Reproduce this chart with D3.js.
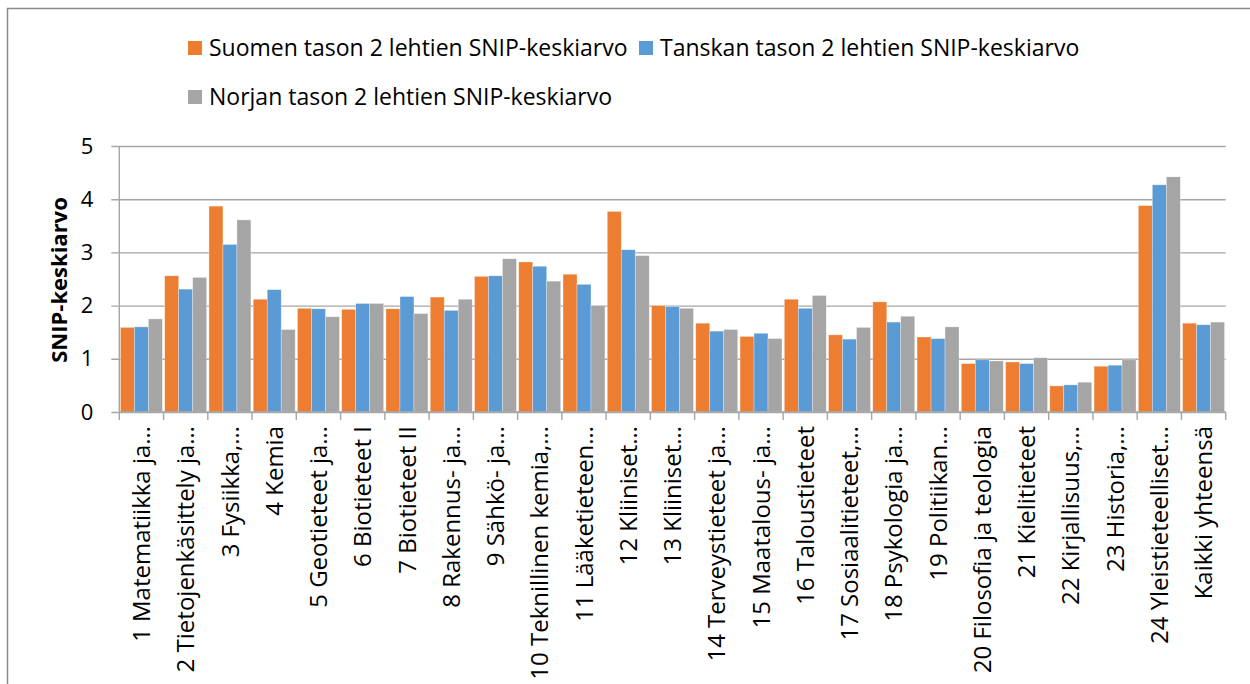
<!DOCTYPE html>
<html>
<head>
<meta charset="utf-8">
<script src="https://cdn.jsdelivr.net/npm/d3@7"></script>
<style>
  html, body { margin: 0; padding: 0; background: #fff; }
  svg { display: block; }
  text { font-family: "Open Sans", "Noto Sans", sans-serif; fill: #000; }
</style>
</head>
<body>
<script>
const categories = [
  "1 Matematiikka ja…", "2 Tietojenkäsittely ja…", "3 Fysiikka,…", "4 Kemia",
  "5 Geotieteet ja…", "6 Biotieteet I", "7 Biotieteet II", "8 Rakennus- ja…",
  "9 Sähkö- ja…", "10 Teknillinen kemia,…", "11 Lääketieteen…", "12 Kliiniset…",
  "13 Kliiniset…", "14 Terveystieteet ja…", "15 Maatalous- ja…", "16 Taloustieteet",
  "17 Sosiaalitieteet,…", "18 Psykologia ja…", "19 Politiikan…", "20 Filosofia ja teologia",
  "21 Kielitieteet", "22 Kirjallisuus,…", "23 Historia,…", "24 Yleistieteelliset…",
  "Kaikki yhteensä"
];
const seriesNames = [
  "Suomen tason 2 lehtien SNIP-keskiarvo",
  "Tanskan tason 2 lehtien SNIP-keskiarvo",
  "Norjan tason 2 lehtien SNIP-keskiarvo"
];
const suomi = [1.59, 2.56, 3.87, 2.12, 1.95, 1.93, 1.94, 2.16, 2.55, 2.82, 2.59, 3.77,
  2.00, 1.67, 1.42, 2.12, 1.45, 2.07, 1.41, 0.91, 0.94, 0.49, 0.86, 3.88, 1.67];
const tanska = [1.60, 2.31, 3.15, 2.30, 1.94, 2.04, 2.17, 1.91, 2.56, 2.74, 2.40, 3.05,
  1.98, 1.52, 1.48, 1.95, 1.37, 1.69, 1.38, 0.98, 0.91, 0.51, 0.88, 4.27, 1.64];
const norja = [1.75, 2.53, 3.61, 1.55, 1.79, 2.04, 1.85, 2.12, 2.88, 2.46, 2.00, 2.94,
  1.95, 1.55, 1.38, 2.19, 1.59, 1.80, 1.60, 0.96, 1.02, 0.56, 0.98, 4.42, 1.69];
const yTicks = [0, 1, 2, 3, 4, 5];
const yTitle = "SNIP-keskiarvo";
const colors = ["#ED7D31", "#5B9BD5", "#A5A5A5"];

const W = 1250, H = 684;
const plot = { left: 119.3, right: 1225.7, top: 146, bottom: 412 };

const svg = d3.select("body").append("svg").attr("width", W).attr("height", H);

// outer frame (partially visible)
svg.append("path")
  .attr("d", `M7.5,${H} V8.5 H${W}`)
  .attr("fill", "none").attr("stroke", "#8c8c8c").attr("stroke-width", 1.5);

const x0 = d3.scaleBand().domain(categories).range([plot.left, plot.right]).paddingInner(0).paddingOuter(0);
const x1 = d3.scaleBand().domain(d3.range(3)).range([0, x0.bandwidth()]).paddingInner(0).paddingOuter(0.083);
const y = d3.scaleLinear().domain([0, 5]).range([plot.bottom, plot.top]);

// gridlines + y axis
const yAxis = d3.axisLeft(y).tickValues(yTicks).tickFormat(d3.format("d"))
  .tickSize(-(plot.right - plot.left)).tickPadding(0);
const gy = svg.append("g").attr("transform", `translate(${plot.left},0)`).call(yAxis);
gy.select(".domain").remove();
gy.selectAll(".tick line").attr("stroke", "#a6a6a6").attr("stroke-width", 1.4).attr("x1", -8);
gy.selectAll(".tick text").attr("x", -26).attr("font-size", 22).attr("text-anchor", "end")
  .style("font-family", '"Open Sans", sans-serif').attr("fill", "#000");

// left axis line
svg.append("line").attr("x1", plot.left).attr("x2", plot.left)
  .attr("y1", plot.top).attr("y2", plot.bottom)
  .attr("stroke", "#a6a6a6").attr("stroke-width", 1.4);

// bars
const data = categories.map((c, i) => ({ c, vals: [suomi[i], tanska[i], norja[i]] }));
const groups = svg.append("g").selectAll("g").data(data).join("g")
  .attr("transform", d => `translate(${x0(d.c)},0)`);
groups.selectAll("rect").data(d => d.vals.map((v, k) => ({ v, k }))).join("rect")
  .attr("x", d => x1(d.k))
  .attr("width", x1.bandwidth())
  .attr("y", d => y(d.v))
  .attr("height", d => y(0) - y(d.v))
  .attr("fill", d => colors[d.k])
  .attr("stroke", "#ffffff").attr("stroke-opacity", 0.5).attr("stroke-width", 0.6);

// x axis
const xAxis = d3.axisBottom(x0).tickSize(0).tickFormat("");
const gx = svg.append("g").attr("transform", `translate(0,${plot.bottom})`).call(xAxis);
gx.select(".domain").attr("stroke", "#a6a6a6").attr("stroke-width", 1.4)
  .attr("d", `M${plot.left},0H${plot.right}`);
// category boundary ticks
const bounds = categories.map(c => x0(c)).concat([plot.right]);
svg.append("g").selectAll("line").data(bounds).join("line")
  .attr("x1", d => d).attr("x2", d => d)
  .attr("y1", plot.bottom).attr("y2", plot.bottom + 8)
  .attr("stroke", "#a6a6a6").attr("stroke-width", 1.4);

// x labels rotated
svg.append("g").selectAll("text").data(categories).join("text")
  .attr("transform", d => `translate(${x0(d) + x0.bandwidth() / 2},${plot.bottom + 14}) rotate(-90)`)
  .attr("text-anchor", "end")
  .attr("dy", "0.36em")
  .attr("font-size", 24)
  .text(d => d);

// y title
svg.append("text")
  .attr("transform", `translate(67,${(plot.top + plot.bottom) / 2 + 1}) rotate(-90)`)
  .attr("text-anchor", "middle")
  .attr("font-size", 22).attr("font-weight", "bold")
  .text(yTitle);

// legend
const legendPos = [ { x: 188, y: 48 }, { x: 639, y: 48 }, { x: 188, y: 97 } ];
const lg = svg.append("g").selectAll("g").data(seriesNames).join("g")
  .attr("transform", (d, i) => `translate(${legendPos[i].x},${legendPos[i].y})`);
lg.append("rect").attr("x", 0).attr("y", -7).attr("width", 14).attr("height", 14)
  .attr("fill", (d, i) => colors[i]);
lg.append("text").attr("x", 21).attr("dy", "0.36em").attr("font-size", 23).text(d => d);
</script>
</body>
</html>
